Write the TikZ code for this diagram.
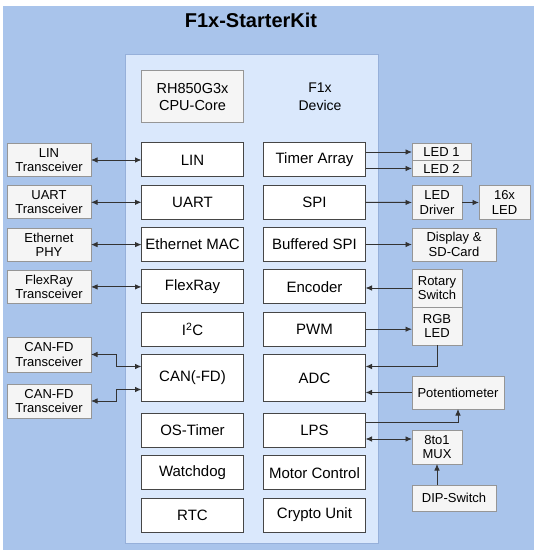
\documentclass[tikz,border=0pt]{standalone}
\usepackage{fontspec}
\setmainfont{Liberation Sans}
\usetikzlibrary{positioning,arrows.meta}

\definecolor{boardblue}{RGB}{169,196,235}
\definecolor{paneblue}{RGB}{218,232,252}
\definecolor{paneedge}{RGB}{150,176,218}
\definecolor{extfill}{RGB}{245,245,245}
\definecolor{extedge}{RGB}{150,150,150}
\definecolor{blockedge}{RGB}{70,70,70}
\definecolor{wire}{RGB}{51,51,51}

\begin{document}
\begin{tikzpicture}[x=1pt,y=1pt,
	block/.style={shape=rectangle,draw=blockedge,fill=white,line width=1pt,minimum width=102pt,minimum height=34pt,inner sep=0pt,outer sep=0pt,align=center,font=\fontsize{15}{17}\selectfont},
	ext/.style={shape=rectangle,draw=extedge,fill=extfill,line width=1pt,minimum width=84pt,minimum height=33pt,inner sep=0pt,outer sep=0pt,align=center,font=\fontsize{13}{14.5}\selectfont},
	link/.style={draw=wire,line width=0.9pt,-{Latex[length=6.5pt,width=5.5pt]}},
	dlink/.style={draw=wire,line width=0.9pt,{Latex[length=6.5pt,width=5.5pt]}-{Latex[length=6.5pt,width=5.5pt]}}]
	\useasboundingbox (0,0) rectangle (545,-553);

	% board and device
	\fill[boardblue] (3,-6) rectangle (534,-550);
	\draw[fill=paneblue,draw=paneedge,line width=1pt] (125,-55) rectangle (378,-543);
	\node[font=\fontsize{20}{24}\selectfont\bfseries] (title) at (251,-20) {F1x-StarterKit};
	\node[ext,minimum width=102pt,minimum height=52pt,font=\fontsize{14.5}{17.5}\selectfont] (cpu) at (192.5,-97) {RH850G3x\\CPU-Core};
	\node[align=center,font=\fontsize{14}{17.5}\selectfont] (dev) at (320,-97) {F1x\\Device};

	% left column
	\node[block] (lin) at (192.5,-160) {LIN};
	\node[block] (uart) [below=8.3pt of lin] {UART};
	\node[block] (eth) [below=8.3pt of uart] {Ethernet MAC};
	\node[block] (flex) [below=8.3pt of eth] {FlexRay};
	\node[block] (iic) [below=8.3pt of flex] {I\textsuperscript{2}C};
	\node[block,minimum height=47pt] (can) [below=8.3pt of iic] {CAN(-FD)};
	\node[block] (ostim) [below=12pt of can] {OS-Timer};
	\node[block] (wdg) [below=8.3pt of ostim] {Watchdog};
	\node[block] (rtc) [below=8.3pt of wdg] {RTC};

	% right column
	\node[block] (timer) at (314.5,-160) {Timer Array};
	\node[block] (spi) [below=8.3pt of timer] {SPI};
	\node[block] (bspi) [below=8.3pt of spi] {Buffered SPI};
	\node[block] (enc) [below=8.3pt of bspi] {Encoder};
	\node[block] (pwm) [below=8.3pt of enc] {PWM};
	\node[block,minimum height=47pt] (adc) [below=8.3pt of pwm] {ADC};
	\node[block] (lps) [below=12pt of adc] {LPS};
	\node[block] (motor) [below=8.3pt of lps] {Motor Control};
	\node[block] (crypto) [below=8.3pt of motor] {Crypto Unit};

	% outside, left
	\node[ext] (lintr) [left=50.5pt of lin] {LIN\\Transceiver};
	\node[ext] (uarttr) [left=50.5pt of uart] {UART\\Transceiver};
	\node[ext] (phy) [left=50.5pt of eth] {Ethernet\\PHY};
	\node[ext] (flextr) [left=50.5pt of flex] {FlexRay\\Transceiver};
	\node[ext,minimum height=35pt] (cantr1) at (49,-354.5) {CAN-FD\\Transceiver};
	\node[ext,minimum height=34pt] (cantr2) at (49,-401) {CAN-FD\\Transceiver};

	% outside, right
	\node[ext,minimum width=59pt,minimum height=16.5pt] (led1) at (441.5,-152) {LED 1};
	\node[ext,minimum width=59pt,minimum height=16.5pt] (led2) at (441.5,-168.5) {LED 2};
	\node[ext,minimum width=50pt] (ledrv) at (437,-202.5) {LED\\Driver};
	\node[ext,minimum width=51pt] (led16) at (504.5,-202.5) {16x\\LED};
	\node[ext] (disp) at (454,-244.5) {Display \&\\SD-Card};
	\node[ext,minimum width=50pt,minimum height=38pt] (rot) at (437,-288) {Rotary\\Switch};
	\node[ext,minimum width=50pt,minimum height=38pt] (rgb) at (437,-326) {RGB\\LED};
	\node[ext,minimum width=92pt] (pot) at (458,-392.5) {Potentiometer};
	\node[ext,minimum width=50pt,minimum height=34pt] (mux) at (437,-447) {8to1\\MUX};
	\node[ext,minimum height=26pt] (dip) at (454,-498) {DIP-Switch};

	% connections, left
	\draw[dlink] (lintr) -- (lin);
	\draw[dlink] (uarttr) -- (uart);
	\draw[dlink] (phy) -- (eth);
	\draw[dlink] (flextr) -- (flex);
	\draw[dlink] (cantr1.east) -- ++(25,0) |- ([yshift=11.5pt]can.west);
	\draw[dlink] (cantr2.east) -- ++(25,0) |- ([yshift=-11.5pt]can.west);

	% connections, right
	\draw[link] (timer.east |- led1.west) -- (led1.west);
	\draw[link] (timer.east |- led2.west) -- (led2.west);
	\draw[link] (spi) -- (ledrv);
	\draw[link] (ledrv) -- (led16);
	\draw[link] (bspi.east |- disp.west) -- (disp.west);
	\draw[link] (rot.west) -- (rot.west -| enc.east);
	\draw[link] (pwm.east) -- (pwm.east -| rgb.west);
	\draw[link] (rgb.south) |- ([yshift=11.5pt]adc.east);
	\draw[link] (pot.west) -- (pot.west -| adc.east);
	\draw[link] ([yshift=8pt]lps.east) -| (pot.south);
	\draw[dlink] ([yshift=-8.5pt]lps.east) -- ([yshift=-8.5pt]lps.east -| mux.west);
	\draw[link] (dip.north -| mux.south) -- (mux.south);
\end{tikzpicture}
\end{document}
